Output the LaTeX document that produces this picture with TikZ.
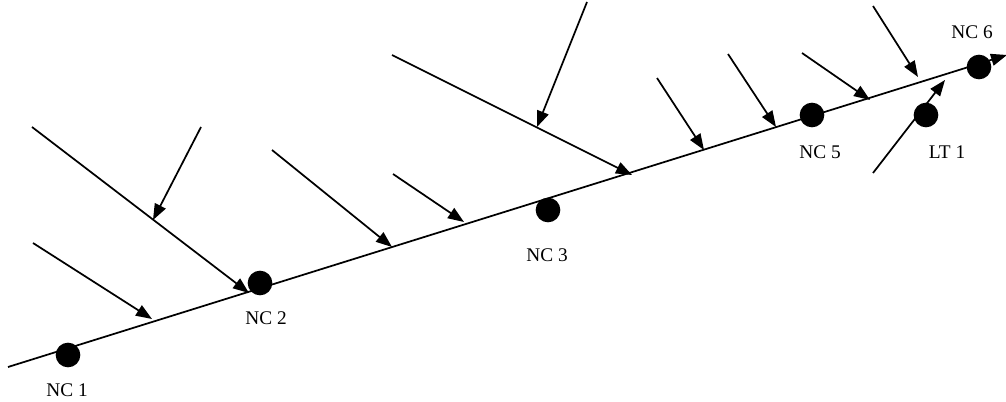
\documentclass[tikz,border=0pt]{standalone}
\usepackage{fontspec}
\setmainfont{Liberation Serif}
\usetikzlibrary{arrows.meta}
\tikzset{
  flow/.style={-{Triangle[length=12pt,width=9pt]}, line width=1.3pt},
  ncdot/.style={circle, fill=black, inner sep=0pt, minimum size=18.5pt},
  nclabel/.style={font=\fontsize{14.5}{16}\selectfont, inner sep=1pt}
}
\begin{document}
\begin{tikzpicture}[x=0.75pt,y=-0.75pt]
\useasboundingbox (0,0) rectangle (1006,402);
% main stream
\coordinate (m0) at (8,367);
\coordinate (m1) at (1007,55);
\draw[flow] (m0) -- (m1);
% inflows
\coordinate (a1) at (33,243);  \coordinate (t1) at (152,319);
\coordinate (a2) at (32,127);  \coordinate (t2) at (249,293);
\coordinate (a3) at (201,127); \coordinate (t3) at (153,220);
\coordinate (a4) at (272,150); \coordinate (t4) at (392,247);
\coordinate (a5) at (393,174); \coordinate (t5) at (464,222);
\coordinate (a6) at (392,55);  \coordinate (t6) at (632,175);
\coordinate (a7) at (587,2);   \coordinate (t7) at (537,127);
\coordinate (a8) at (657,78);  \coordinate (t8) at (704,150);
\coordinate (a9) at (728,54);  \coordinate (t9) at (776,127);
\coordinate (a10) at (802,53); \coordinate (t10) at (870,100);
\coordinate (a11) at (873,6);  \coordinate (t11) at (918,77);
\coordinate (a12) at (873,173); \coordinate (t12) at (945,80);
\foreach \i in {1,...,12}
  \draw[flow] (a\i) -- (t\i);
% stations
\node[ncdot] (nc1) at (68,355) {};
\node[ncdot] (nc2) at (260,283) {};
\node[ncdot] (nc3) at (548,210) {};
\node[ncdot] (nc5) at (812,115) {};
\node[ncdot] (lt1) at (926,115) {};
\node[ncdot] (nc6) at (979,67) {};
\node[nclabel] (nc1 label) at (67,390) {NC 1};
\node[nclabel] (nc2 label) at (266,318) {NC 2};
\node[nclabel] (nc3 label) at (547,255) {NC 3};
\node[nclabel] (nc5 label) at (820,152) {NC 5};
\node[nclabel] (lt1 label) at (947,152) {LT 1};
\node[nclabel] (nc6 label) at (972,32) {NC 6};
\end{tikzpicture}
\end{document}
